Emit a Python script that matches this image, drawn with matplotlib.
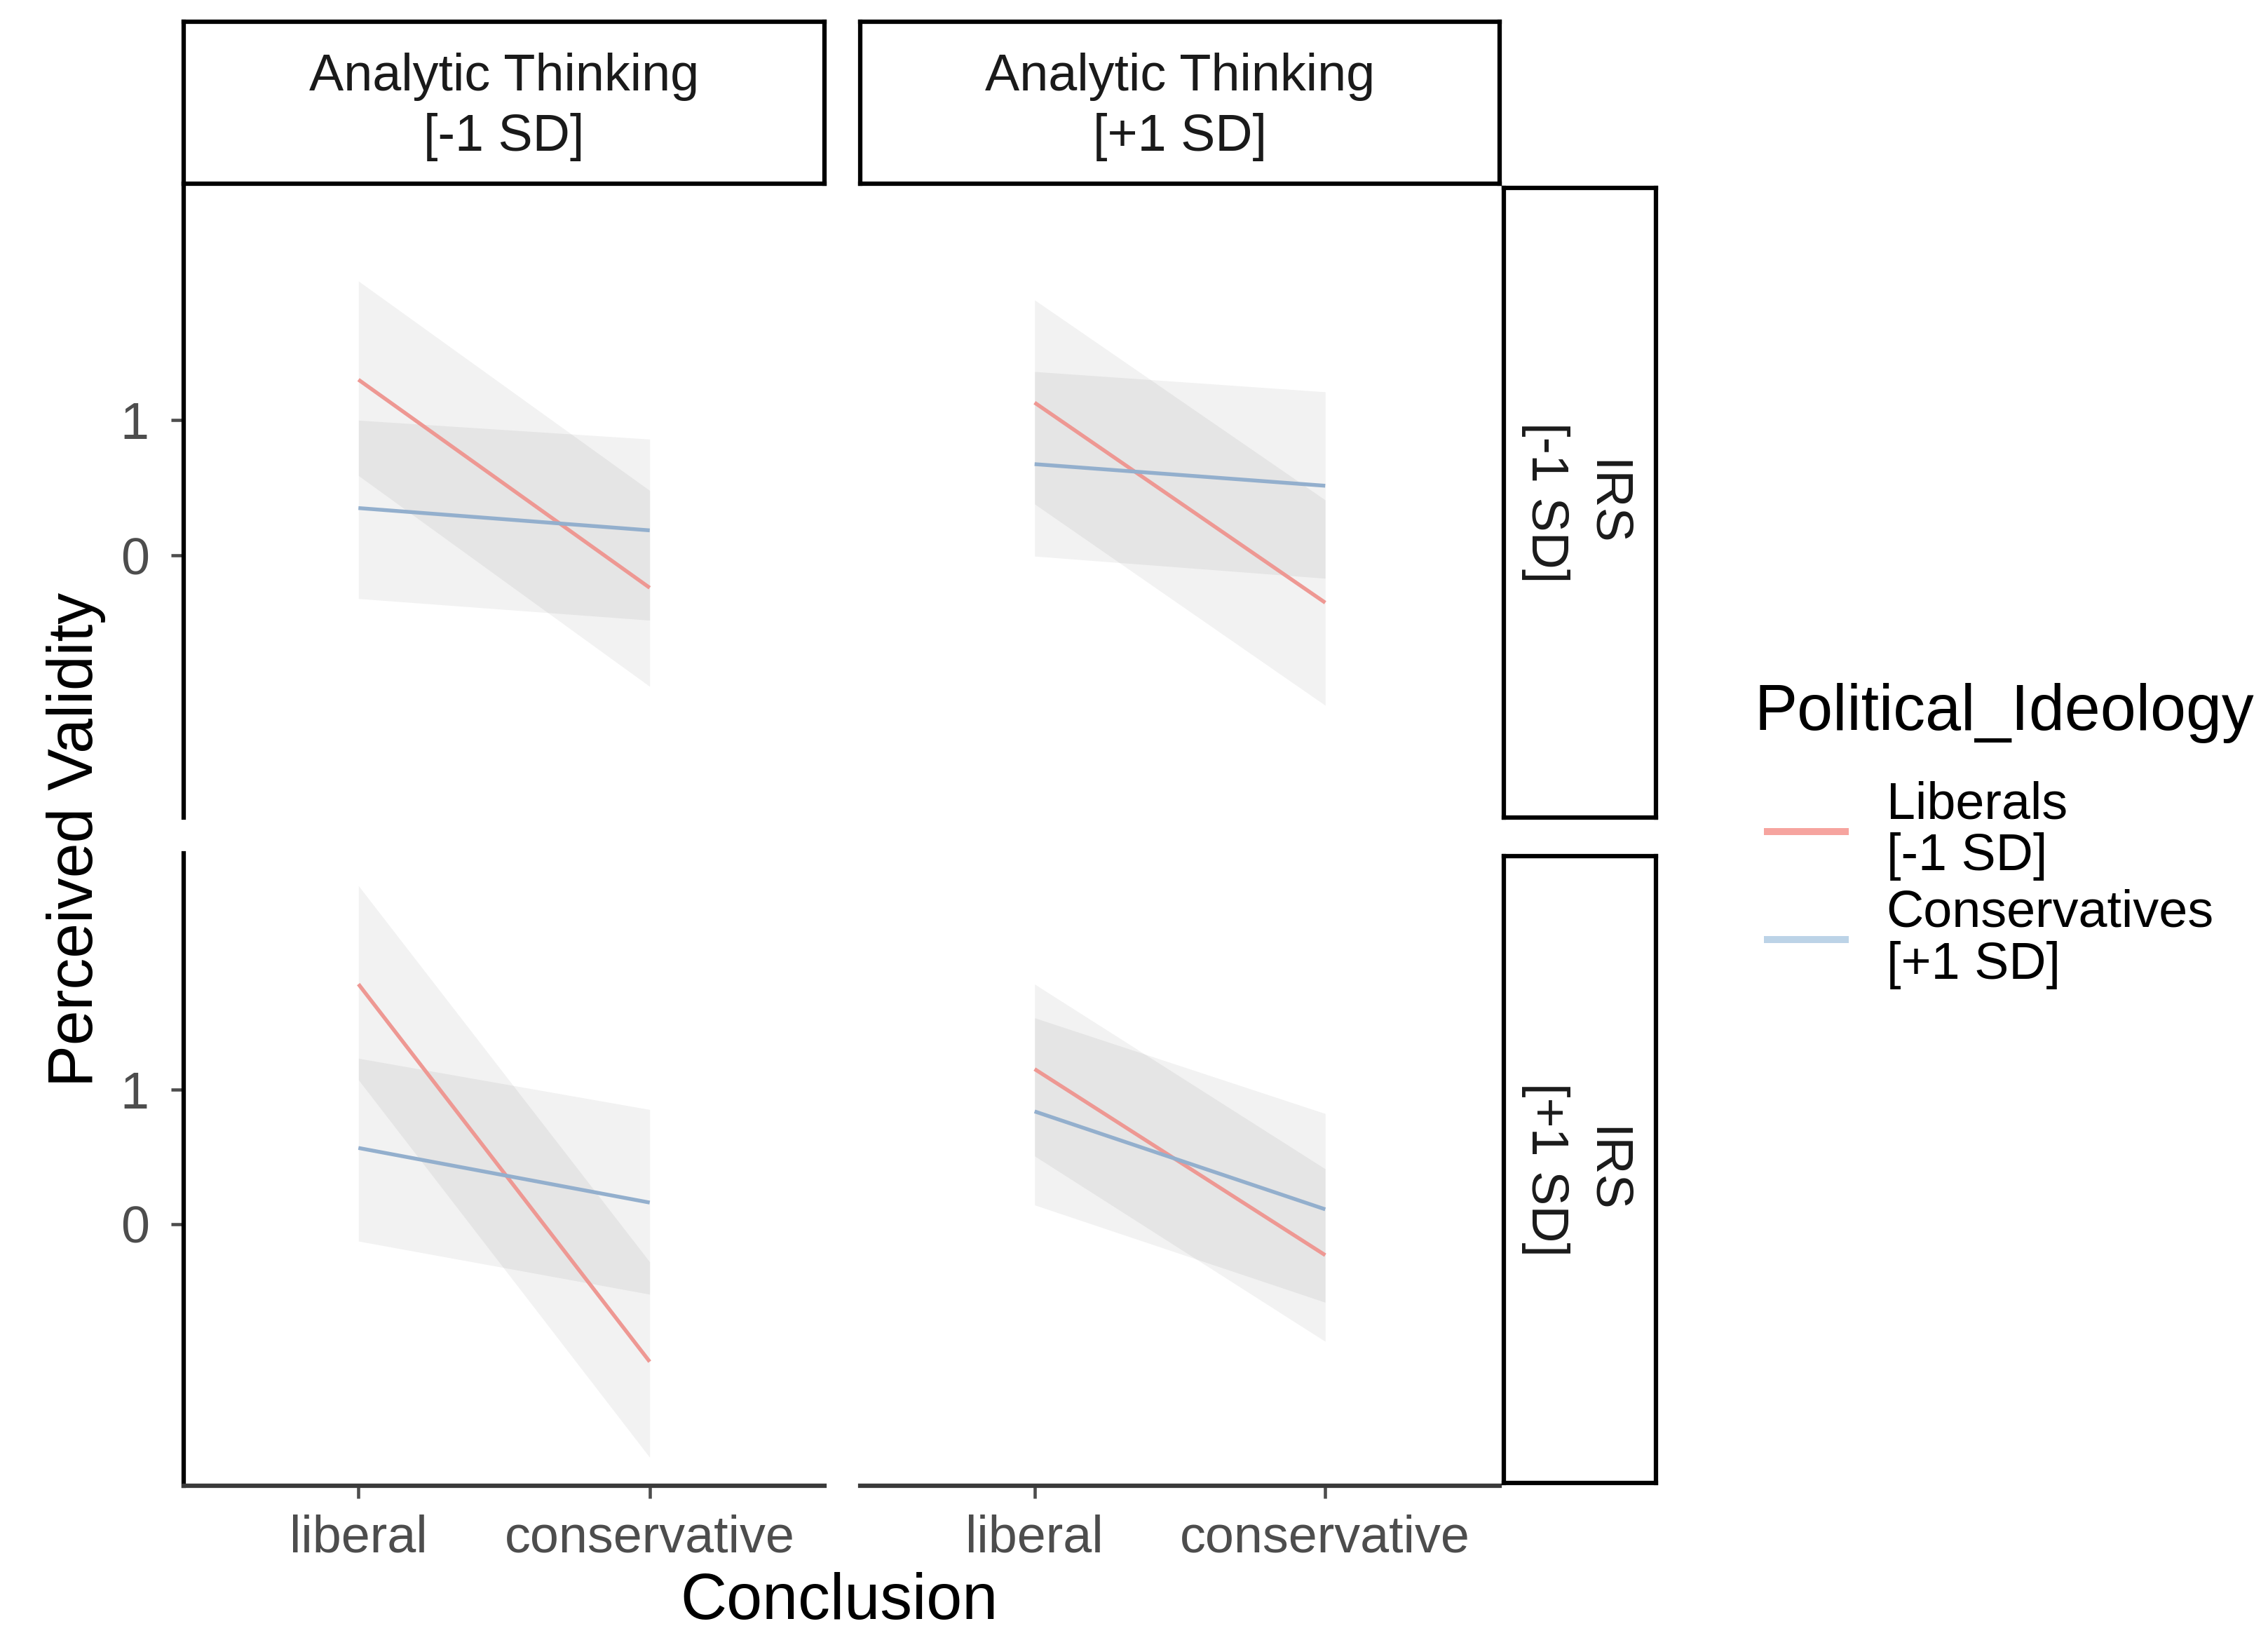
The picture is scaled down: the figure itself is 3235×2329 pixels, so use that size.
import matplotlib
matplotlib.use("Agg")
import matplotlib.pyplot as plt
from matplotlib.lines import Line2D
import numpy as np

plt.rcParams['font.family'] = ['Liberation Sans', 'DejaVu Sans']

# ---------------- data ----------------
conclusions = ["liberal", "conservative"]
col_labels = ["Analytic Thinking\n[-1 SD]", "Analytic Thinking\n[+1 SD]"]
row_labels = ["IRS\n[-1 SD]", "IRS\n[+1 SD]"]
groups = ["Liberals\n[-1 SD]", "Conservatives\n[+1 SD]"]
legend_title = "Political_Ideology"
y_ticks = [0, 1]

# panels ordered: (row0,col0), (row0,col1), (row1,col0), (row1,col1)
lib_fit   = [[1.30, -0.24], [1.13, -0.35], [1.78, -1.02], [1.15, -0.23]]
lib_lower = [[0.59, -0.97], [0.38, -1.11], [1.07, -1.73], [0.505, -0.87]]
lib_upper = [[2.03, 0.48],  [1.89, 0.41],  [2.51, -0.28], [1.78, 0.41]]
con_fit   = [[0.35, 0.185], [0.675, 0.515], [0.565, 0.16], [0.836, 0.11]]
con_lower = [[-0.32, -0.48], [-0.006, -0.17], [-0.126, -0.52], [0.142, -0.58]]
con_upper = [[1.00, 0.86],  [1.36, 1.21],  [1.23, 0.85], [1.53, 0.82]]

# ---------------- style ----------------
W, H = 3235, 2329
DPI = 300
fig = plt.figure(figsize=(W / DPI, H / DPI), dpi=DPI)

line_colors = ["#EE9893", "#93AFCD"]
legend_colors = ["#F6A49F", "#BCD3E7"]
ribbon_color = (0, 0, 0, 0.05)
tick_col = "#4D4D4D"
strip_col = "#1A1A1A"
fs = 17.7
title_fs = 22

def fx(px):
    return px / W

def fy(top_px, bottom_px):
    return 1 - bottom_px / H, (bottom_px - top_px) / H

col_x = [(262, 1176), (1227, 2139)]
row_y = [(262, 1166), (1217, 2119)]
ylim = (-1.94, 2.75)
xpos = np.arange(1, len(conclusions) + 1)

fits = [lib_fit, con_fit]
lows = [lib_lower, con_lower]
ups = [lib_upper, con_upper]

for r in range(2):
    for c in range(2):
        k = r * 2 + c
        x0, x1 = col_x[c]
        t0, b0 = row_y[r]
        yb, hh = fy(t0, b0)
        ax = fig.add_axes([fx(x0), yb, fx(x1 - x0), hh])
        for g in range(2):
            ax.fill_between(xpos, lows[g][k], ups[g][k], color=ribbon_color,
                            linewidth=0, zorder=1)
        for g in range(2):
            ax.plot(xpos, fits[g][k], color=line_colors[g], lw=1.3,
                    zorder=3, solid_capstyle='butt')
        ax.set_xlim(0.4, 2.6)
        ax.set_ylim(*ylim)
        for s in ['top', 'right']:
            ax.spines[s].set_visible(False)
        ax.spines['left'].set_visible(c == 0)
        ax.spines['bottom'].set_visible(r == 1)
        ax.spines['left'].set_color('black')
        ax.spines['left'].set_linewidth(1.5)
        ax.spines['bottom'].set_color('#3A3A3A')
        ax.spines['bottom'].set_linewidth(1.5)
        ax.tick_params(axis='both', colors=tick_col, width=1.1, length=4.3,
                       labelsize=fs, labelcolor=tick_col)
        ax.tick_params(axis='y', pad=7.5)
        ax.tick_params(axis='x', pad=5.5)
        if c == 0:
            ax.set_yticks(y_ticks)
            ax.set_yticklabels([str(v) for v in y_ticks])
        else:
            ax.set_yticks([])
        if r == 1:
            ax.set_xticks(xpos)
            ax.set_xticklabels(conclusions)
        else:
            ax.set_xticks([])

# top strips
for c in range(2):
    x0, x1 = col_x[c]
    yb, hh = fy(31, 262)
    sa = fig.add_axes([fx(x0), yb, fx(x1 - x0), hh])
    sa.set_xticks([]); sa.set_yticks([])
    for s in sa.spines.values():
        s.set_linewidth(1.5); s.set_color('black')
    sa.text(0.5, 0.475, col_labels[c], ha='center', va='center', fontsize=fs,
            color=strip_col, transform=sa.transAxes, linespacing=1.32)

# right strips
rs_y = [(268, 1166), (1221, 2115)]
for r in range(2):
    t0, b0 = rs_y[r]
    yb, hh = fy(t0, b0)
    sa = fig.add_axes([fx(2145), yb, fx(2362 - 2145), hh])
    sa.set_xticks([]); sa.set_yticks([])
    for s in sa.spines.values():
        s.set_linewidth(1.5); s.set_color('black')
    sa.text(0.472, 0.5, row_labels[r], ha='center', va='center', fontsize=fs,
            color=strip_col, rotation=270, transform=sa.transAxes,
            linespacing=1.32)

# axis titles
fig.text(fx(109), 1 - 1197 / H, "Perceived Validity", rotation=90,
         ha='center', va='center', fontsize=21.5, color='black')
fig.text(fx(1197), 1 / H, "Conclusion", ha='center', va='bottom',
         fontsize=title_fs, color='black')

# legend
fig.text(fx(2502), 1 - 1017 / H, legend_title, ha='left', va='center',
         fontsize=title_fs, color='black')
handles = [Line2D([0], [0], color=legend_colors[g], lw=2.4) for g in range(2)]
leg = fig.legend(handles, groups, loc='center left',
                 bbox_to_anchor=(fx(2521), 1 - 1262 / H), frameon=False,
                 fontsize=fs, handlelength=1.5, handletextpad=0.8,
                 labelspacing=0.15, borderpad=0, borderaxespad=0,
                 alignment='left')
for t in leg.get_texts():
    t.set_linespacing(1.1)

fig.savefig("out.png", dpi=DPI)
